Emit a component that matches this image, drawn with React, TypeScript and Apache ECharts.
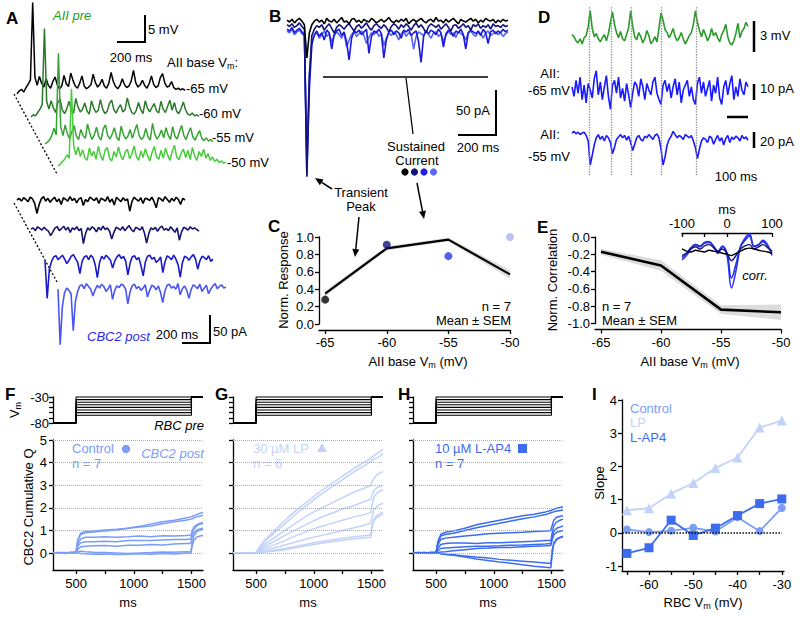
import React, { useEffect, useRef } from "react";
import * as echarts from "echarts";

const FONT = "'Liberation Sans', Arial, Helvetica, sans-serif";

// ---------- Panel A: AII pre (mV, relative to each trace's base) ----------
const aPreDurationMs = 1200;
const aPre65 = [-0.5,0,0.3,-0.2,0.6,1.2,2.0,15.8,2.5,1.0,2.6,1.4,0.7,2.2,1.0,0.5,1.7,2.5,1.1,0.4,0.9,2.8,1.3,0.8,3.2,1.9,0.9,0.5,1.4,2.7,0.9,0.4,0.7,1.1,3.0,1.5,0.7,1.2,2.1,0.9,0.5,1.4,3.3,1.7,0.8,0.4,1.0,2.2,1.1,0.6,0.9,1.8,3.7,1.5,0.7,1.1,1.9,1.0,0.5,1.3,2.7,1.2,0.6,0.9,2.4,3.1,1.4,0.7,0.9,1.7,0.6,0.3,0.5,0.2,0.4,0.1];
const aPre60 = [0,0.4,0.2,0.8,1.4,2.2,15.8,2.8,1.4,2.9,1.6,0.8,2.6,3.2,1.2,0.6,1.5,2.8,1.2,0.7,3.3,1.8,0.9,1.4,2.5,1.1,0.5,2.9,1.6,0.8,1.2,3.1,1.4,0.6,1.0,2.4,3.0,1.3,0.7,1.6,2.2,0.9,1.3,3.4,1.8,0.8,0.5,1.2,2.6,1.3,0.6,2.9,1.6,0.9,1.7,2.4,1.1,0.7,2.8,1.4,0.8,1.9,3.0,1.2,2.6,1.0,0.6,1.5,2.7,1.3,0.5,0.3,0.7,0.2,0.4,0.1];
const aPre55 = [0,0.3,0.7,1.5,2.8,1.6,16.2,3.1,1.5,3.4,1.8,0.9,2.2,3.3,1.4,0.8,2.6,1.5,1.0,3.6,1.9,0.8,1.6,3.0,1.3,0.7,2.7,3.4,1.5,0.9,1.8,2.9,1.2,0.6,3.2,1.7,0.9,1.4,2.6,1.0,2.3,3.5,1.6,0.8,1.2,2.8,1.3,0.7,3.7,1.8,0.9,1.5,2.5,1.1,2.9,1.6,0.8,3.1,1.4,0.9,2.2,3.3,1.5,0.8,2.0,2.9,1.3,0.7,1.6,2.4,1.0,0.6,1.1,0.5,0.8,0.4];
const aPre50 = [0,0.3,0.8,1.2,2.0,1.4,13.8,3.6,2.0,3.4,1.7,2.9,1.5,1.0,3.2,1.8,2.6,1.2,3.5,1.9,1.0,2.8,3.3,1.4,0.9,2.6,1.6,3.4,1.8,1.1,2.5,3.0,1.3,2.2,3.6,1.7,1.0,2.7,1.5,3.1,1.8,0.9,2.4,3.5,1.6,1.2,2.8,1.4,3.2,1.9,1.0,2.6,3.7,1.6,1.1,2.3,3.0,1.5,2.8,1.2,3.3,1.8,1.0,2.6,1.7,3.0,1.4,2.2,1.0,1.6,0.8,1.2,0.6,0.9,0.5,0.7];
const aPreLabels = ["-65 mV", "-60 mV", "-55 mV", "-50 mV"];

// ---------- Panel A: CBC2 post (pA) ----------
const aPostDurationMs = 1200;
const aPost65 = [0,3,-2,4,1,-3,5,2,-6,-24,-8,2,6,-2,3,-4,1,5,-3,2,-8,4,1,-2,6,-1,3,-5,2,4,-10,1,-3,5,2,-1,4,-6,3,1,-2,6,-4,2,-9,5,1,-3,4,-1,2,-20,-3,5,1,-2,4,-6,3,2,-1,5,-3,-14,4,2,-2,6,1,-4,3,-2,5,1,-8,3,0];
const aPost60 = [0,2,-3,4,1,-2,3,-1,-4,-12,-5,2,4,-3,1,5,-2,3,-6,2,-1,4,-3,1,-26,-8,2,-2,4,1,-5,3,-2,5,-1,2,-4,-18,-6,3,1,-2,4,-3,2,6,-1,-5,3,1,-2,4,-7,-25,-8,2,-1,3,-4,2,5,-2,1,-3,4,-1,-6,2,-20,-5,3,1,-2,4,0,2,-1,-4];
const aPost55 = [-5,-72,-20,-6,2,4,-3,1,5,-2,-10,-4,3,6,-1,-8,-28,-6,2,4,-3,5,1,-12,-35,-8,3,-2,5,1,-4,-18,-5,2,6,-1,3,-6,-30,-9,2,4,-3,1,-14,-32,-7,3,5,-2,1,-8,-4,2,-26,-7,4,1,-3,5,-2,-12,-34,-8,3,1,-4,2,6,-2,-20,-5,3,1,-3,4,-6,-2];
const aPost50 = [-4,-103,-35,-10,-2,-6,-12,-78,-25,-8,2,4,-3,6,1,-4,-16,-5,3,-2,5,1,-8,-3,4,-22,-6,2,-1,5,3,-4,-30,-9,2,5,-3,1,-6,-2,4,-18,-6,3,1,-5,2,-10,-28,-7,3,5,-2,1,-4,6,-14,-3,2,-6,-20,-5,4,1,-3,5,-8,-2,3,-12,-4,2,6,-3,1,4,-2,0];

// ---------- Panel B: overlaid CBC2 currents (pA) ----------
const bDurationMs = 1160;
const b65 = [2,0,3,-1,2,4,1,-3,-40,-12,-3,1,3,0,2,-2,4,1,0,3,-1,2,5,0,1,-2,3,4,0,2,-1,3,1,0,4,2,-1,1,3,0,2,5,1,-1,2,0,3,1,4,-2,1,3,0,2,4,1,-1,2,3,0,5,1,2,-1,3,0,2,4,1,-2,3,1,0,2,4,1,3,-1,2,0,4,2,1,3,-1,2,0,3,1,2];
const b60 = [-3,-5,-2,-6,-4,-1,-5,-8,-172,-60,-15,-8,-4,-6,-3,-9,-5,-2,-7,-12,-6,-3,-5,-8,-4,-2,-6,-10,-5,-3,-7,-4,-1,-6,-9,-4,-2,-5,-7,-3,-6,-11,-5,-2,-4,-8,-3,-6,-2,-5,-9,-4,-1,-6,-3,-7,-12,-5,-2,-4,-6,-3,-8,-5,-2,-6,-10,-4,-3,-7,-5,-2,-6,-4,-9,-3,-5,-2,-7,-4,-6,-3,-8,-2,-5,-4,-6,-3,-5,-4];
const b55 = [-8,-10,-6,-12,-9,-7,-11,-14,-170,-75,-25,-14,-10,-16,-12,-20,-9,-12,-30,-14,-10,-8,-15,-11,-22,-42,-18,-10,-12,-9,-14,-11,-8,-35,-16,-10,-12,-8,-13,-40,-20,-11,-9,-14,-10,-12,-18,-9,-11,-8,-15,-12,-10,-22,-45,-16,-10,-13,-9,-11,-14,-8,-12,-28,-13,-9,-11,-16,-10,-12,-8,-14,-30,-12,-9,-11,-13,-10,-15,-8,-12,-24,-11,-9,-13,-10,-12,-8,-11,-9];
const b50 = [-10,-12,-8,-14,-11,-9,-13,-15,-150,-60,-22,-15,-12,-18,-14,-10,-16,-13,-22,-15,-11,-14,-18,-12,-28,-20,-14,-11,-16,-13,-10,-15,-24,-17,-12,-14,-10,-16,-13,-26,-18,-12,-15,-11,-14,-20,-13,-10,-16,-12,-14,-30,-16,-11,-13,-15,-10,-14,-18,-12,-11,-16,-13,-22,-15,-10,-14,-12,-17,-11,-13,-15,-20,-12,-10,-14,-16,-11,-13,-18,-12,-10,-15,-13,-11,-14,-12,-16,-13,-11];

// ---------- Panel C ----------
const cVm = [-65, -60, -55, -50];
const cMean = [0.35, 0.87, 0.97, 0.57];
const cSem = [0.03, 0.025, 0.02, 0.05];
const cDots = [0.28, 0.91, 0.78, 1.0];

// ---------- Panel D ----------
const dDurationMs = 880;
const dSpikeTimesMs = [85, 195, 295, 445, 620];
const dPre = [1.2,1.0,0.6,0.4,0.8,0.3,0.9,1.1,2.0,3.5,1.8,1.0,1.3,0.8,0.5,0.9,1.2,0.6,1.3,2.4,3.4,2.2,1.4,0.9,1.5,0.8,0.6,1.2,1.9,3.5,2.0,1.0,0.7,1.4,1.0,0.4,0.8,1.6,1.1,0.3,0.6,1.0,0.5,1.8,3.3,2.6,1.7,1.4,0.9,1.3,1.8,1.0,0.6,0.9,1.4,0.8,0.3,0.7,1.1,1.4,2.2,3.5,2.4,1.6,1.0,1.7,1.2,0.6,1.0,1.8,1.1,1.4,0.9,0.5,1.2,1.6,2.2,1.0,0.4,0.2,0.6,1.3,2.3,0.9,1.5,1.8,2.4,2.0];
const dPost65 = [2,-4,6,-2,8,-6,3,-8,4,0,-5,7,12,-3,5,-6,2,9,-4,-12,3,6,-2,8,-5,1,-7,4,-3,-11,-2,5,3,-4,7,2,-6,4,0,-3,5,8,-2,-6,-9,3,6,-1,4,-5,2,7,-3,5,-8,0,3,6,-4,2,-6,-9,4,8,-2,5,-4,1,6,-7,3,-2,8,-5,-9,2,6,-3,4,9,-6,2,-4,7,0,-3,5,2];
const dPost55 = [0,2,-1,1,-2,0,1,-3,-10,-40,-28,-15,-6,-2,-8,-4,-10,-3,-6,-12,-26,-18,-8,-5,-2,-6,-3,-9,-4,-12,-22,-14,-6,-3,-8,-10,-4,-6,-2,-5,-8,-3,-1,-6,-20,-40,-30,-15,-8,-4,2,-2,-6,-3,-5,-8,-2,-4,-6,-3,-10,-18,-32,-20,-10,-6,-8,-12,-4,-6,-14,-8,-3,-10,-6,-15,-7,-3,-12,-5,-8,-4,-6,-10,-3,-7,-5,-9];

// ---------- Panel E ----------
const eVm = [-65, -60, -55, -50];
const eMean = [-0.17, -0.33, -0.84, -0.87];
const eSem = [0.035, 0.06, 0.05, 0.09];
const eLagMs = [-100,-90,-80,-70,-60,-50,-40,-30,-20,-10,0,10,20,30,40,50,60,70,80,90,100];
const eCorrBlue1 = [-0.3,-0.2,-0.05,0.05,0.0,0.1,0.12,0.0,-0.15,0.0,-0.2,-0.95,-0.55,0.0,0.2,0.3,0.0,0.05,0.15,0.05,-0.2];
const eCorrBlue2 = [-0.25,-0.15,-0.02,0.05,0.02,0.08,0.1,0.02,-0.1,0.02,-0.15,-0.72,-0.4,0.0,0.15,0.25,0.02,0.05,0.12,0.02,-0.15];
const eCorrNavy = [-0.2,-0.15,-0.05,0.0,-0.05,0.02,0.05,-0.02,-0.1,-0.05,-0.15,-0.32,-0.2,-0.05,0.02,0.05,-0.05,0.0,0.05,-0.02,-0.1];
const eCorrBlack = [-0.05,-0.1,-0.12,-0.08,-0.1,-0.12,-0.08,-0.1,-0.12,-0.15,-0.17,-0.2,-0.15,-0.1,-0.05,-0.03,-0.05,-0.08,-0.1,-0.12,-0.15];

// ---------- Panels F/G/H ----------
const stepLevelsMv = [-30, -35, -40, -45, -50, -55, -60, -65];
const qTimesMs = [300,350,400,450,500,515,540,580,650,750,850,950,1050,1150,1250,1350,1450,1495,1505,1520,1545,1575,1600];
const fControl = [
  [0,0.02,-0.02,0.01,0.05,0.6,0.88,0.95,0.97,1.02,1.05,1.1,1.18,1.28,1.38,1.45,1.55,1.6,1.62,1.65,1.7,1.76,1.8],
  [0.02,0,0.01,-0.01,0.04,0.55,0.82,0.9,0.93,0.97,1.02,1.1,1.15,1.2,1.3,1.38,1.45,1.5,1.52,1.55,1.6,1.64,1.67],
  [0,0.01,0.02,0,0.03,0.4,0.62,0.7,0.7,0.72,0.7,0.72,0.75,0.72,0.76,0.75,0.78,0.8,0.95,1.15,1.25,1.32,1.35],
  [0.01,-0.01,0,0.02,0.03,0.3,0.45,0.5,0.5,0.52,0.5,0.55,0.55,0.56,0.58,0.6,0.6,0.62,0.85,1.05,1.2,1.28,1.3],
  [0,0.02,0,-0.01,0.02,0.15,0.28,0.3,0.32,0.33,0.3,0.35,0.34,0.38,0.36,0.4,0.42,0.42,0.7,0.9,1.02,1.07,1.1],
  [0.02,0,0.01,0.02,0.02,0.05,0.08,0.06,0.04,0.02,0.0,-0.02,0.0,0.02,0.05,0.03,0.06,0.05,0.4,0.75,0.95,1.02,1.05],
  [0,0.01,-0.01,0.02,0.01,0.0,-0.02,-0.03,-0.05,-0.04,-0.06,-0.05,-0.03,-0.05,-0.02,-0.04,-0.01,0.0,0.3,0.55,0.7,0.75,0.78],
];
const gLP = [
  [0,0,0.01,0,0.02,0.15,0.35,0.6,0.95,1.45,1.9,2.3,2.7,3.05,3.4,3.75,4.05,4.2,4.25,4.3,4.4,4.5,4.6],
  [0,0.01,0,0.01,0.02,0.12,0.3,0.55,0.85,1.3,1.75,2.15,2.55,2.9,3.25,3.6,3.9,4.05,4.1,4.15,4.2,4.3,4.4],
  [0,0,0.01,0,0.01,0.1,0.25,0.42,0.65,1.0,1.35,1.68,1.95,2.2,2.45,2.7,2.9,3.0,3.15,3.3,3.45,3.55,3.6],
  [0.01,0,0,0.01,0.02,0.08,0.18,0.32,0.5,0.78,1.05,1.3,1.55,1.75,1.95,2.1,2.3,2.38,2.55,2.75,2.88,2.95,3.0],
  [0,0.01,0,0,0.01,0.06,0.13,0.22,0.35,0.55,0.78,0.98,1.15,1.3,1.45,1.6,1.72,1.8,2.1,2.45,2.65,2.75,2.8],
  [0,0,0.01,0,0.01,0.04,0.08,0.14,0.22,0.36,0.5,0.64,0.76,0.88,1.0,1.12,1.25,1.32,1.6,1.9,2.05,2.15,2.2],
  [0,0.01,0,0.01,0,0.02,0.04,0.07,0.12,0.2,0.3,0.4,0.5,0.58,0.65,0.72,0.78,0.8,1.2,1.5,1.65,1.75,1.8],
  [0,0,0.01,0,0,0.01,0.02,0.05,0.08,0.15,0.24,0.33,0.42,0.5,0.57,0.63,0.68,0.7,1.1,1.4,1.58,1.66,1.7],
];
const hLAP4 = [
  [0,0.02,-0.01,0.02,0.02,0.5,0.82,0.92,0.98,1.1,1.25,1.35,1.45,1.55,1.65,1.72,1.82,1.88,1.9,1.93,1.98,2.02,2.05],
  [0.01,0,0.02,-0.02,0.01,0.45,0.75,0.82,0.88,1.0,1.12,1.22,1.32,1.42,1.52,1.6,1.7,1.78,1.8,1.82,1.86,1.88,1.9],
  [0,0.02,0,0.01,0.02,0.35,0.6,0.66,0.7,0.75,0.8,0.85,0.88,0.9,0.92,0.95,0.98,1.0,1.2,1.45,1.58,1.63,1.65],
  [0.02,0,0.01,0,0.03,0.2,0.38,0.42,0.44,0.44,0.42,0.45,0.46,0.48,0.5,0.52,0.55,0.55,0.85,1.2,1.38,1.45,1.5],
  [0,0.01,0.02,0,0.02,0.1,0.2,0.22,0.25,0.28,0.3,0.3,0.32,0.35,0.36,0.38,0.4,0.42,0.7,0.95,1.1,1.15,1.2],
  [0.01,0,-0.01,0.02,0.01,0.02,0.05,0.06,0.1,0.15,0.2,0.22,0.25,0.25,0.28,0.3,0.32,0.33,0.55,0.8,0.92,0.96,1.0],
  [0,0.01,0,0.02,0.01,0.0,-0.02,-0.05,-0.08,-0.13,-0.18,-0.22,-0.28,-0.32,-0.36,-0.4,-0.44,-0.46,0.1,0.45,0.62,0.7,0.75],
  [0.02,0,0.01,0,0.02,0.0,-0.03,-0.06,-0.1,-0.18,-0.26,-0.33,-0.4,-0.45,-0.52,-0.58,-0.63,-0.65,-0.1,0.4,0.6,0.68,0.72],
];
const qTicks = [0, 1, 2, 3, 4, 5];

// ---------- Panel I ----------
const iVm = [-65, -60, -55, -50, -45, -40, -35, -30];
const iControl = [0.1, 0.02, 0.06, 0.15, 0.04, 0.47, 0.05, 0.75];
const iLP = [0.68, 0.74, 1.18, 1.5, 1.95, 2.27, 3.17, 3.38];
const iLAP4 = [-0.62, -0.45, 0.38, -0.08, 0.14, 0.52, 0.88, 1.02];

const C_CTRL = "#7b9df6";
const C_LP = "#c2d2f9";
const C_LAP4 = "#3c6cf0";

function buildOption() {
  const grid: any[] = [], xAxis: any[] = [], yAxis: any[] = [], series: any[] = [], graphic: any[] = [];
  const axLine = { show: true, onZero: false, lineStyle: { color: "#000", width: 1.3 } };
  const axTick = { show: true, length: 4, lineStyle: { color: "#000", width: 1.3 } };
  const axLabel = { color: "#000", fontSize: 13, fontFamily: FONT, formatter: (v: number) => String(v) };

  const addGrid = (g: any, xa: any, ya: any) => {
    const i = grid.length;
    grid.push({ ...g, containLabel: false, outerBoundsMode: "none", show: false });
    xAxis.push({ splitLine: { show: false }, ...xa, gridIndex: i });
    yAxis.push({ splitLine: { show: false }, ...ya, gridIndex: i });
    return i;
  };
  const traceGrid = (left: number, baseY: number, width: number, pxPerUnit: number, minV: number, maxV: number, dur: number) =>
    addGrid(
      { left, top: baseY - maxV * pxPerUnit, width, height: (maxV - minV) * pxPerUnit },
      { type: "value", min: 0, max: dur, show: false },
      { type: "value", min: minV, max: maxV, show: false }
    );
  const trace = (gi: number, vals: number[], dur: number, color: string, width = 1.4) => {
    const dt = dur / (vals.length - 1);
    series.push({
      type: "line", xAxisIndex: gi, yAxisIndex: gi, silent: true, symbol: "none", clip: false,
      data: vals.map((v, i) => [i * dt, v]), lineStyle: { color, width },
    });
  };
  const txt = (text: string, x: number, y: number, o: any = {}) => {
    graphic.push({
      type: "text", x, y, rotation: o.rot || 0, silent: true,
      style: {
        text, fill: o.color || "#000", fontSize: o.size || 13, fontFamily: FONT,
        fontWeight: o.bold ? "bold" : "normal", fontStyle: o.italic ? "italic" : "normal",
        align: o.align || "left", verticalAlign: "middle", textAlign: o.align || "left", textVerticalAlign: "middle",
        lineHeight: 16, rich: o.rich,
      },
    });
  };
  const subRich = (size = 13) => ({ s: { fontSize: size - 4, lineHeight: 9, verticalAlign: "bottom", fontFamily: FONT } });
  const line = (x1: number, y1: number, x2: number, y2: number, w = 1.5, dash?: number[]) =>
    graphic.push({ type: "line", silent: true, shape: { x1, y1, x2, y2 }, style: { stroke: "#000", lineWidth: w, lineDash: dash } });
  const arrow = (x1: number, y1: number, x2: number, y2: number) => {
    const a = Math.atan2(y2 - y1, x2 - x1), L = 8, W = 3.5;
    const bx = x2 - L * Math.cos(a), by = y2 - L * Math.sin(a);
    const px = -Math.sin(a) * W, py = Math.cos(a) * W;
    line(x1, y1, bx, by, 1.5);
    graphic.push({ type: "polygon", silent: true, shape: { points: [[x2, y2], [bx + px, by + py], [bx - px, by - py]] }, style: { fill: "#000" } });
  };
  const dot = (cx: number, cy: number, r: number, fill: string) =>
    graphic.push({ type: "circle", silent: true, shape: { cx, cy, r }, style: { fill } });

  // ===== Panel A =====
  txt("A", 6, 18, { bold: true, size: 17 });
  txt("AII pre", 53, 15, { italic: true, color: "#22a022" });
  line(145, 15, 145, 42, 2); line(117, 42, 146, 42, 2);
  txt("5 mV", 148, 29); txt("200 ms", 131, 57, { align: "center" });
  txt("AII base V{s|m}:", 167, 62, { rich: subRich() });
  const preCols = ["#000000", "#2b7a2b", "#37a337", "#47cc3a"];
  const preLeft = [17, 31, 45, 58];
  const preBase = [91, 117, 144, 166];
  const preData = [aPre65, aPre60, aPre55, aPre50];
  preData.forEach((d, k) => {
    const gi = traceGrid(preLeft[k], preBase[k], 168, 5.6, -2, 17, aPreDurationMs);
    trace(gi, d, aPreDurationMs, preCols[k], 1.5);
  });
  [[186, 88], [199, 113], [212, 137], [227, 162]].forEach((p, k) => txt(aPreLabels[k], p[0], p[1]));
  line(14, 94, 57, 174, 1.3, [2, 2]);

  const postCols = ["#000000", "#15156e", "#1a1ac8", "#4a55f2"];
  const postBase = [200, 229, 258, 287];
  const postData = [aPost65, aPost60, aPost55, aPost50];
  postData.forEach((d, k) => {
    const gi = traceGrid(preLeft[k], postBase[k], 168, 0.56, -110, 15, aPostDurationMs);
    trace(gi, d, aPostDurationMs, postCols[k], 1.6);
  });
  line(14, 203, 57, 282, 1.3, [2, 2]);
  txt("CBC2 post", 87, 336, { italic: true, color: "#2a2aee" });
  txt("200 ms", 177, 334, { align: "center" });
  line(210, 315, 210, 344, 2); line(182, 343, 211, 343, 2);
  txt("50 pA", 213, 331);

  // ===== Panel B =====
  txt("B", 269, 16, { bold: true, size: 17 });
  const bGi = traceGrid(287, 22, 221, 0.9, -175, 12, bDurationMs);
  trace(bGi, b50, bDurationMs, "#5566f5", 1.6);
  trace(bGi, b55, bDurationMs, "#1a1adb", 1.6);
  trace(bGi, b60, bDurationMs, "#13137a", 1.6);
  trace(bGi, b65, bDurationMs, "#000000", 1.6);
  line(323, 77, 488, 77, 1.5);
  line(406, 78, 413, 134, 1.3);
  txt("Sustained", 416, 146, { align: "center" });
  txt("Current", 417, 160, { align: "center" });
  dot(405, 172, 3.6, "#000"); dot(414.5, 172, 3.6, "#13137a"); dot(424, 172, 3.6, "#2020e0"); dot(433.5, 172, 3.6, "#5a6af5");
  arrow(417, 183, 424, 219);
  line(496, 90, 496, 136, 2); line(458, 135, 497, 135, 2);
  txt("50 pA", 473, 110, { align: "center" });
  txt("200 ms", 478, 147, { align: "center" });
  txt("Transient", 361, 192, { align: "center" });
  txt("Peak", 361, 206, { align: "center" });
  arrow(332, 189, 315, 178);
  arrow(359, 217, 355, 257);

  // ===== Panel C =====
  txt("C", 268, 226, { bold: true, size: 17 });
  const cGi = addGrid(
    { left: 319, top: 237, width: 191, height: 87 },
    { type: "value", min: -65.5, max: -50, offset: 6, axisLine: axLine, axisTick: { ...axTick, customValues: cVm }, axisLabel: { ...axLabel, customValues: cVm, margin: 6 } },
    { type: "value", min: 0, max: 1, interval: 0.2, axisLine: axLine, axisTick: axTick, axisLabel: { ...axLabel, margin: 5, formatter: (v: number) => v.toFixed(1) } }
  );
  const band = (gi: number, xs: number[], m: number[], s: number[]) => ({
    type: "custom", xAxisIndex: gi, yAxisIndex: gi, silent: true, data: [[xs[1], m[1]]], z: 1,
    renderItem: (_p: any, api: any) => {
      const up = xs.map((x, i) => api.coord([x, m[i] + s[i]]));
      const lo = xs.map((x, i) => api.coord([x, m[i] - s[i]])).reverse();
      return { type: "polygon", shape: { points: [...up, ...lo] }, style: { fill: "#dcdcdc" } };
    },
  });
  series.push(band(cGi, cVm, cMean, cSem));
  series.push({ type: "line", xAxisIndex: cGi, yAxisIndex: cGi, silent: true, symbol: "none", data: cVm.map((x, i) => [x, cMean[i]]), lineStyle: { color: "#000", width: 2.2 }, z: 2 });
  const cDotCols = ["#000000", "#12127e", "#2a3ae8", "#aab2f5"];
  series.push({
    type: "scatter", xAxisIndex: cGi, yAxisIndex: cGi, silent: true, symbolSize: 8, clip: false, z: 3,
    data: cVm.map((x, i) => ({ value: [x, cDots[i]], itemStyle: { color: cDotCols[i] } })),
  });
  txt("Norm. Response", 283, 280, { rot: Math.PI / 2, align: "center" });
  txt("AII base V{s|m} (mV)", 418, 361, { align: "center", rich: subRich() });
  txt("n = 7", 511, 306, { align: "right" });
  txt("Mean ± SEM", 511, 320, { align: "right" });

  // ===== Panel D =====
  txt("D", 538, 17, { bold: true, size: 17 });
  const dOv = addGrid({ left: 572, top: 6, width: 176, height: 169 }, { type: "value", min: 0, max: dDurationMs, show: false }, { type: "value", min: 0, max: 1, show: false });
  series.push({
    type: "line", xAxisIndex: dOv, yAxisIndex: dOv, silent: true, symbol: "none", data: [[0, 0.5]], lineStyle: { opacity: 0 },
    markLine: { silent: true, symbol: ["none", "none"], label: { show: false }, lineStyle: { type: "dotted", color: "#8a8a8a", width: 1.3 }, data: dSpikeTimesMs.map((t) => ({ xAxis: t })) },
  });
  const dG = traceGrid(572, 47, 176, 10.3, -0.7, 3.8, dDurationMs);
  trace(dG, dPre, dDurationMs, "#2a9a2a", 1.6);
  const dB1 = traceGrid(572, 90, 176, 1.6, -15, 15, dDurationMs);
  trace(dB1, dPost65, dDurationMs, "#1a1aff", 1.6);
  const dB2 = traceGrid(572, 133, 176, 0.8, -45, 8, dDurationMs);
  trace(dB2, dPost55, dDurationMs, "#1a1aff", 1.6);
  line(754, 21, 754, 52, 2.5); txt("3 mV", 760, 35);
  line(754, 84, 754, 100, 2.5); txt("10 pA", 760, 88);
  line(727, 117, 748, 117, 2.5);
  line(754, 132, 754, 148, 2.5); txt("20 pA", 760, 141);
  txt("100 ms", 736, 176, { align: "center" });
  txt("AII:", 550, 73, { align: "center" }); txt("-65 mV", 549, 90, { align: "center" });
  txt("AII:", 550, 134, { align: "center" }); txt("-55 mV", 549, 156, { align: "center" });

  // ===== Panel E =====
  txt("E", 537, 227, { bold: true, size: 17 });
  const eGi = addGrid(
    { left: 595, top: 237, width: 186, height: 86.5 },
    { type: "value", min: -65.5, max: -50, offset: 6, axisLine: axLine, axisTick: { ...axTick, customValues: eVm }, axisLabel: { ...axLabel, customValues: eVm, margin: 6 } },
    { type: "value", min: -1, max: 0, interval: 0.2, axisLine: axLine, axisTick: axTick, axisLabel: { ...axLabel, margin: 5, formatter: (v: number) => (Math.abs(v) < 1e-9 ? "0.0" : v.toFixed(1)) } }
  );
  series.push(band(eGi, eVm, eMean, eSem));
  series.push({ type: "line", xAxisIndex: eGi, yAxisIndex: eGi, silent: true, symbol: "none", data: eVm.map((x, i) => [x, eMean[i]]), lineStyle: { color: "#000", width: 2.6 }, z: 2 });
  txt("Norm. Correlation", 552, 280, { rot: Math.PI / 2, align: "center" });
  txt("AII base V{s|m} (mV)", 690, 361, { align: "center", rich: subRich() });
  txt("n = 7", 602, 306);
  txt("Mean ± SEM", 602, 320);
  const inGi = addGrid(
    { left: 682, top: 233, width: 90, height: 57 },
    { type: "value", position: "top", min: -100, max: 100, interval: 50, axisLine: axLine, axisTick: { ...axTick, inside: true }, axisLabel: { ...axLabel, margin: 3, formatter: (v: number) => (v % 100 === 0 ? String(v) : "") } },
    { type: "value", min: -1, max: 0.32, show: false }
  );
  const inset = (vals: number[], color: string, w: number) =>
    series.push({ type: "line", xAxisIndex: inGi, yAxisIndex: inGi, silent: true, symbol: "none", smooth: 0.4, data: eLagMs.map((x, i) => [x, vals[i]]), lineStyle: { color, width: w } });
  inset(eCorrBlue1, "#3333ff", 1.6);
  inset(eCorrBlue2, "#2233dd", 1.6);
  inset(eCorrNavy, "#15157a", 1.4);
  inset(eCorrBlack, "#000000", 1.4);
  txt("ms", 727, 209, { align: "center" });
  txt("corr.", 755, 275, { italic: true, align: "center" });

  // ===== Panels F, G, H =====
  const panels = [
    { left: 53, letter: "F", lx: 5, curves: fControl, color: C_CTRL },
    { left: 233, letter: "G", lx: 215, curves: gLP, color: C_LP },
    { left: 413, letter: "H", lx: 398, curves: hLAP4, color: C_LAP4 },
  ];
  panels.forEach((p, pi) => {
    txt(p.letter, p.lx, 394, { bold: true, size: 17 });
    const pg = addGrid(
      { left: p.left, top: 397, width: 150, height: 26 },
      { type: "value", min: 300, max: 1600, show: false },
      { type: "value", min: -80, max: -30, axisLine: axLine, axisTick: { ...axTick, length: 4, customValues: [-80, -70, -60, -50, -40, -30] }, axisLabel: { ...axLabel, show: pi === 0, customValues: [-80, -30], margin: 4 } }
    );
    stepLevelsMv.forEach((lv) => {
      series.push({
        type: "line", xAxisIndex: pg, yAxisIndex: pg, silent: true, symbol: "none", clip: false,
        data: [[300, -80], [500, -80], [500, lv], [1500, lv], [1500, -30], [1600, -30]],
        lineStyle: { color: "#000", width: 1.1 },
      });
    });
    const mg = addGrid(
      { left: p.left, top: 440, width: 150, height: 130 },
      { type: "value", min: 300, max: 1600, axisLine: axLine, axisTick: { ...axTick, customValues: [500, 750, 1000, 1250, 1500] }, axisLabel: { ...axLabel, customValues: [500, 1000, 1500], margin: 7 } },
      { type: "value", min: -0.75, max: 5, axisLine: axLine, axisTick: { ...axTick, customValues: qTicks }, axisLabel: { ...axLabel, show: pi === 0, customValues: qTicks, margin: 6 } }
    );
    p.curves.forEach((c, ci) => {
      series.push({
        type: "line", xAxisIndex: mg, yAxisIndex: mg, silent: true, symbol: "none",
        data: qTimesMs.map((t, i) => [t, c[i]]), lineStyle: { color: p.color, width: 1.5 },
        markLine: ci === 0 ? { silent: true, symbol: ["none", "none"], label: { show: false }, lineStyle: { type: "dotted", color: "#aaaaaa", width: 1 }, data: qTicks.map((v) => ({ yAxis: v })) } : undefined,
      });
    });
    txt("ms", p.left + 75, 602, { align: "center" });
  });
  txt("V{s|m}", 14, 410, { rot: Math.PI / 2, align: "center", rich: subRich() });
  txt("RBC pre", 204, 425, { italic: true, align: "right" });
  txt("CBC2 Cumulative Q", 28, 507, { rot: Math.PI / 2, align: "center" });
  txt("Control", 72, 448, { color: C_CTRL });
  txt("n = 7", 72, 463, { color: C_CTRL });
  dot(126, 449, 4.2, C_CTRL);
  txt("CBC2 post", 204, 453, { italic: true, align: "right", color: C_CTRL });
  txt("30 µM LP", 253, 448, { color: "#c5d4f9" });
  txt("n = 6", 253, 463, { color: "#c5d4f9" });
  graphic.push({ type: "polygon", silent: true, shape: { points: [[322, 443], [327, 452], [317, 452]] }, style: { fill: C_LP } });
  txt("10 µM L-AP4", 435, 448, { color: C_LAP4 });
  txt("n = 7", 435, 463, { color: C_LAP4 });
  graphic.push({ type: "rect", silent: true, shape: { x: 518, y: 444, width: 9, height: 9 }, style: { fill: C_LAP4 } });

  // ===== Panel I =====
  txt("I", 592, 394, { bold: true, size: 17 });
  const iTicksX = [-65, -60, -55, -50, -45, -40, -35, -30];
  const iGi = addGrid(
    { left: 622, top: 400, width: 162, height: 171 },
    { type: "value", min: -66.1, max: -29.5, axisLine: axLine, axisTick: { ...axTick, customValues: iTicksX }, axisLabel: { ...axLabel, customValues: [-60, -50, -40, -30], margin: 7 } },
    { type: "value", min: -1.15, max: 4, axisLine: axLine, axisTick: { ...axTick, customValues: [-1, 0, 1, 2, 3, 4] }, axisLabel: { ...axLabel, customValues: [-1, 0, 1, 2, 3, 4], margin: 5 } }
  );
  const iSer = (vals: number[], color: string, symbol: string, size: number, extra: any = {}) =>
    series.push({ type: "line", xAxisIndex: iGi, yAxisIndex: iGi, silent: true, symbol, symbolSize: size, clip: false, data: iVm.map((x, i) => [x, vals[i]]), lineStyle: { color, width: 1.8 }, itemStyle: { color }, ...extra });
  iSer(iLP, C_LP, "triangle", 10, {
    markLine: { silent: true, symbol: ["none", "none"], label: { show: false }, lineStyle: { type: "dotted", color: "#000", width: 1.5 }, data: [[{ coord: [-66, 0] }, { coord: [-30, 0] }]] },
  });
  iSer(iControl, C_CTRL, "circle", 8);
  iSer(iLAP4, C_LAP4, "rect", 9);
  txt("Control", 630, 408, { color: C_CTRL });
  txt("LP", 630, 422, { color: C_LP });
  txt("L-AP4", 630, 437, { color: C_LAP4 });
  txt("Slope", 599, 483, { rot: Math.PI / 2, align: "center" });
  txt("RBC V{s|m} (mV)", 703, 602, { align: "center", rich: subRich() });

  return { animation: false, backgroundColor: "#ffffff", grid, xAxis, yAxis, series, graphic };
}

export default function App() {
  const ref = useRef<HTMLDivElement>(null);
  useEffect(() => {
    if (!ref.current) return;
    const chart = echarts.init(ref.current, null, { renderer: "svg", width: 800, height: 617 });
    chart.setOption(buildOption() as any);
    return () => chart.dispose();
  }, []);
  return <div ref={ref} style={{ position: "absolute", left: 0, top: 0, width: 800, height: 617, background: "#fff" }} />;
}
